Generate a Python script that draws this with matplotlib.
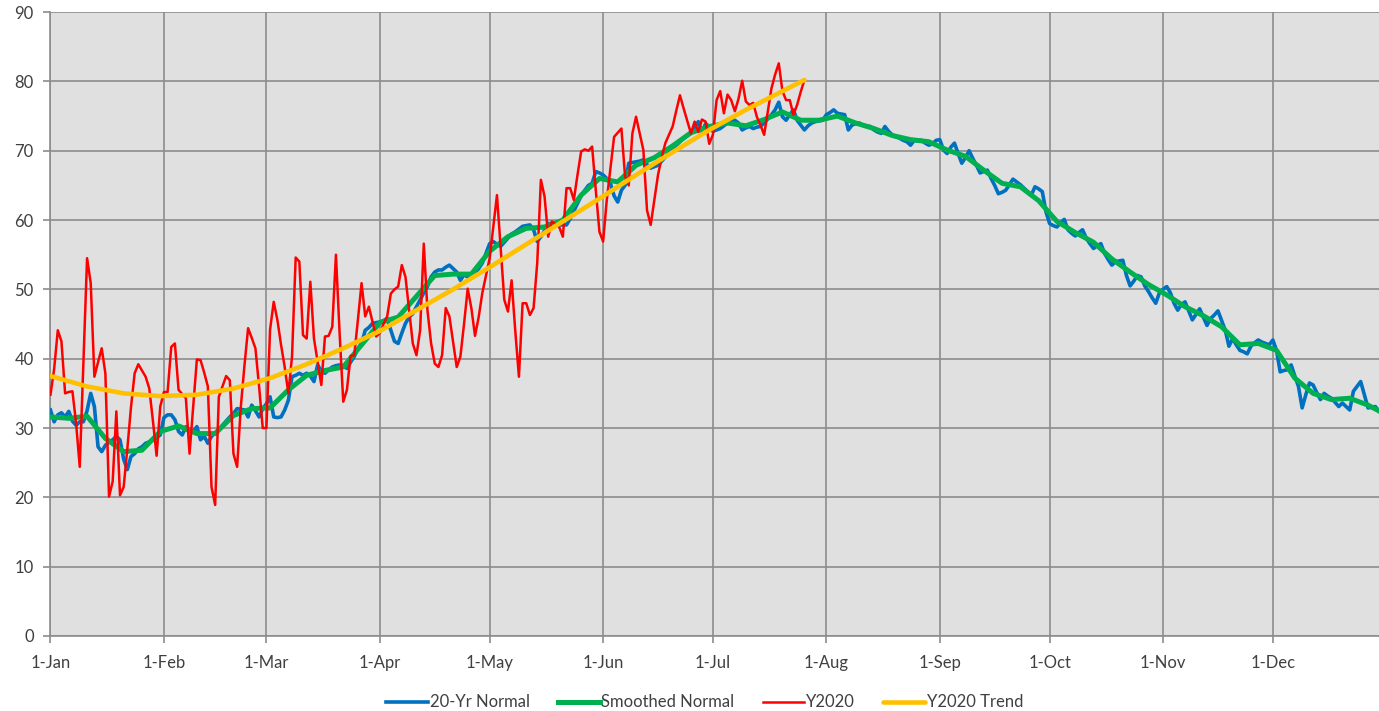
import numpy as np
import matplotlib
matplotlib.use("Agg")
import matplotlib.pyplot as plt

# month ticks (day of year, non-leap)
MONTH_DAYS = [0, 31, 59, 90, 120, 151, 181, 212, 243, 273, 304, 334]
MONTH_LABELS = ["1-Jan", "1-Feb", "1-Mar", "1-Apr", "1-May", "1-Jun",
                "1-Jul", "1-Aug", "1-Sep", "1-Oct", "1-Nov", "1-Dec"]

# 20-yr normal, daily from 1-Jan
NORMAL = [
    32.6, 30.9, 31.9, 32.2, 31.6, 32.4, 31.0, 30.4, 30.9, 30.9,
    32.5, 35.0, 33.1, 27.3, 26.6, 27.5, 28.0, 28.3, 28.8, 28.3,
    25.5, 24.0, 25.9, 26.3, 27.0, 27.3, 27.8, 28.0, 28.3, 28.6,
    29.0, 31.5, 31.9, 31.9, 31.2, 29.5, 29.0, 30.2, 29.8, 29.5,
    30.2, 28.3, 28.8, 27.8, 28.8, 29.3, 29.8, 30.4, 31.0, 31.6,
    32.1, 32.8, 32.7, 32.6, 31.6, 33.3, 32.5, 31.6, 32.8, 33.5,
    34.5, 31.6, 31.5, 31.6, 32.6, 34.0, 37.4, 37.6, 37.9, 37.6,
    37.9, 37.5, 36.7, 39.1, 38.2, 37.9, 38.4, 38.8, 39.0, 39.1,
    39.0, 38.6, 39.5, 40.3, 41.5, 42.2, 44.1, 44.5, 45.1, 45.2,
    45.3, 45.5, 45.8, 44.1, 42.5, 42.2, 43.7, 45.1, 46.0, 46.5,
    47.5, 48.5, 49.5, 50.4, 51.8, 52.5, 52.8, 52.8, 53.2, 53.5,
    53.0, 52.5, 51.3, 52.1, 51.8, 52.0, 52.3, 53.0, 53.8, 55.2,
    56.6, 56.9, 56.5, 56.2, 56.8, 57.4, 58.0, 58.3, 58.7, 59.1,
    59.2, 59.3, 58.6, 56.9, 57.6, 58.5, 59.5, 59.5, 59.4, 59.3,
    59.3, 59.3, 60.2, 61.3, 62.4, 63.5, 64.3, 65.0, 65.3, 67.0,
    66.8, 66.5, 66.0, 65.3, 63.5, 62.6, 64.3, 65.0, 68.2, 68.3,
    68.4, 68.5, 68.7, 68.0, 67.5, 67.7, 67.9, 68.5, 69.1, 69.9,
    70.3, 70.8, 71.3, 71.8, 72.2, 72.5, 73.3, 74.2, 72.7, 73.9,
    73.5, 72.8, 73.0, 73.2, 73.6, 74.0, 74.2, 74.4, 74.0, 73.0,
    73.3, 73.5, 73.2, 73.4, 73.5, 74.0, 74.6, 75.2, 75.9, 77.0,
    74.9, 74.4, 75.2, 75.9, 74.4, 73.7, 73.0, 73.6, 74.0, 74.2,
    74.3, 74.4, 75.2, 75.5, 75.9, 75.4, 75.3, 75.2, 73.0, 73.7,
    73.9, 74.0, 73.7, 73.6, 73.5, 73.0, 72.7, 72.5, 73.5, 72.8,
    72.3, 72.0, 71.8, 71.5, 71.3, 70.8, 71.5, 71.5, 71.5, 71.1,
    70.8, 71.0, 71.5, 71.6, 70.1, 69.6, 70.5, 71.1, 69.6, 68.2,
    69.0, 70.0, 68.9, 67.9, 66.8, 67.0, 67.2, 66.0, 65.0, 63.8,
    64.0, 64.3, 65.1, 65.9, 65.5, 65.1, 64.6, 64.1, 63.6, 64.8,
    64.5, 64.1, 61.2, 59.5, 59.2, 59.0, 59.6, 60.1, 58.6, 58.1,
    57.7, 58.2, 58.6, 57.4, 56.6, 55.9, 56.3, 56.6, 55.2, 54.3,
    53.5, 54.0, 54.1, 54.2, 52.0, 50.5, 51.2, 52.0, 51.8, 50.5,
    49.7, 48.8, 48.0, 49.5, 50.0, 50.4, 49.5, 48.0, 47.0, 47.8,
    48.2, 46.9, 45.6, 46.4, 47.2, 46.0, 44.8, 45.8, 46.3, 46.9,
    45.5, 44.1, 41.8, 42.9, 42.0, 41.2, 41.0, 40.7, 41.8, 42.3,
    42.7, 42.4, 42.2, 42.0, 42.7, 41.2, 38.1, 38.3, 38.4, 39.1,
    37.5, 36.0, 32.9, 34.8, 36.5, 36.2, 35.1, 34.1, 35.0, 34.6,
    34.3, 33.7, 33.1, 33.6, 33.1, 32.6, 35.3, 36.0, 36.7, 34.8,
    32.9, 33.0, 33.1, 32.4, 32.0,
]

# smoothed normal, every 5 days
SMOOTH_DAYS = list(range(0, 361, 5)) + [364]
SMOOTH = [
    31.6, 31.4, 31.7, 28.5, 26.6, 26.8, 29.5, 30.3, 29.2, 29.2,
    31.8, 32.8, 32.9, 35.5, 37.6, 38.3, 38.8, 42.0, 45.2, 46.0,
    49.0, 52.0, 52.2, 52.2, 55.5, 57.6, 58.8, 59.0, 60.0, 63.6,
    66.0, 65.5, 67.9, 69.0, 70.7, 72.6, 73.5, 74.0, 73.6, 74.5,
    75.6, 74.4, 74.4, 75.0, 74.0, 73.2, 72.2, 71.6, 71.3, 70.1,
    69.2, 67.2, 65.3, 64.8, 62.8, 59.8, 58.2, 56.8, 54.4, 52.5,
    50.7, 49.2, 47.5, 46.2, 44.6, 42.0, 42.2, 41.2, 37.2, 35.0,
    34.1, 34.3, 33.3, 32.2,
]

# 2020 observed, daily from 1-Jan
Y2020 = [
    34.8, 38.5, 44.1, 42.5, 35.0, 35.2, 35.3, 30.7, 24.4, 39.5,
    54.5, 50.9, 37.4, 39.5, 41.5, 37.9, 20.1, 22.3, 32.4, 20.3,
    21.5, 27.0, 33.0, 37.9, 39.2, 38.3, 37.4, 35.7, 31.0, 26.0,
    33.1, 35.2, 35.2, 41.7, 42.2, 35.5, 34.9, 34.3, 26.3, 33.0,
    39.9, 39.8, 38.0, 36.0, 21.5, 18.9, 34.5, 36.0, 37.5, 36.9,
    26.3, 24.4, 33.0, 39.0, 44.4, 43.0, 41.5, 36.0, 30.0, 30.0,
    44.2, 48.2, 45.6, 42.0, 38.8, 35.0, 40.3, 54.6, 54.0, 43.4,
    42.9, 51.1, 42.9, 39.5, 36.2, 43.2, 43.3, 44.6, 55.0, 43.7,
    33.8, 35.5, 40.4, 40.5, 45.6, 50.9, 46.1, 47.5, 45.3, 43.2,
    43.7, 45.0, 46.1, 49.4, 50.0, 50.4, 53.5, 51.8, 47.0, 42.2,
    40.5, 44.1, 56.6, 47.0, 42.2, 39.3, 38.8, 40.5, 47.3, 46.1,
    42.5, 38.8, 40.3, 45.0, 50.1, 47.3, 43.3, 46.0, 49.5, 52.0,
    54.5, 59.0, 63.6, 56.0, 48.5, 46.8, 51.3, 44.0, 37.4, 48.0,
    48.0, 46.3, 47.3, 53.8, 65.8, 63.4, 57.6, 59.8, 59.4, 59.0,
    57.6, 64.6, 64.6, 62.9, 66.5, 69.9, 70.2, 70.0, 70.6, 64.3,
    58.3, 56.9, 62.9, 67.5, 72.0, 72.6, 73.2, 66.3, 65.0, 72.5,
    74.9, 72.5, 70.1, 61.4, 59.3, 62.9, 66.5, 69.0, 71.1, 72.3,
    73.5, 75.8, 78.0, 76.1, 74.3, 72.5, 74.2, 72.7, 74.5, 74.2,
    71.0, 72.3, 77.3, 78.6, 75.4, 78.1, 77.3, 75.7, 77.5, 80.1,
    77.1, 76.6, 76.9, 74.9, 73.7, 72.3, 75.7, 79.0, 81.0, 82.6,
    78.6, 77.3, 77.3, 75.2, 76.6, 78.5, 80.2,
]

# 2020 trend line
TREND_DAYS = list(range(0, 201, 10)) + [206]
TREND = [
    37.5, 36.0, 35.0, 34.6, 34.8, 35.7, 37.2, 39.2, 41.5, 44.0,
    47.0, 50.0, 53.2, 56.5, 59.8, 63.1, 66.5, 69.8, 73.0, 75.9,
    78.6, 80.2,
]

fig = plt.figure(figsize=(13.79, 7.11), dpi=100)
ax = fig.add_axes([0.0366, 0.1055, 0.9634, 0.8775])
ax.set_facecolor("#E0E0E0")

ax.plot(np.arange(len(NORMAL)), NORMAL, color="#0070C0", lw=2.6, label="20-Yr Normal", zorder=3)
ax.plot(SMOOTH_DAYS, SMOOTH, color="#00B050", lw=3.6, label="Smoothed Normal", zorder=4)
ax.plot(np.arange(len(Y2020)), Y2020, color="#FF0000", lw=1.8, label="Y2020", zorder=5)
ax.plot(TREND_DAYS, TREND, color="#FFC000", lw=3.3, label="Y2020 Trend",
        zorder=6, solid_capstyle="round")

ax.set_xlim(0, 363)
ax.set_ylim(0, 90)
ax.set_xticks(MONTH_DAYS)
ax.set_xticklabels(MONTH_LABELS)
ax.set_yticks(range(0, 91, 10))
ax.grid(True, color="#8C8C8C", lw=1.2, zorder=0)
ax.set_axisbelow(True)
for s in ["top", "right"]:
    ax.spines[s].set_visible(False)
for s in ["left", "bottom"]:
    ax.spines[s].set_color("#8C8C8C")
    ax.spines[s].set_linewidth(1.2)
ax.tick_params(direction="out", length=5, width=1.2, color="#8C8C8C",
               labelsize=12, labelcolor="#404040")
ax.tick_params(axis="x", pad=9)
ax.tick_params(axis="y", pad=7)
for lab in ax.get_xticklabels() + ax.get_yticklabels():
    lab.set_family("Lato")

fig.legend(loc="center", bbox_to_anchor=(0.511, 0.012), ncol=4, frameon=False,
           prop={"family": "Lato", "size": 12}, handlelength=2.5, handletextpad=0.1,
           columnspacing=1.7, labelcolor="#404040")

fig.savefig("out.png", dpi=100)
